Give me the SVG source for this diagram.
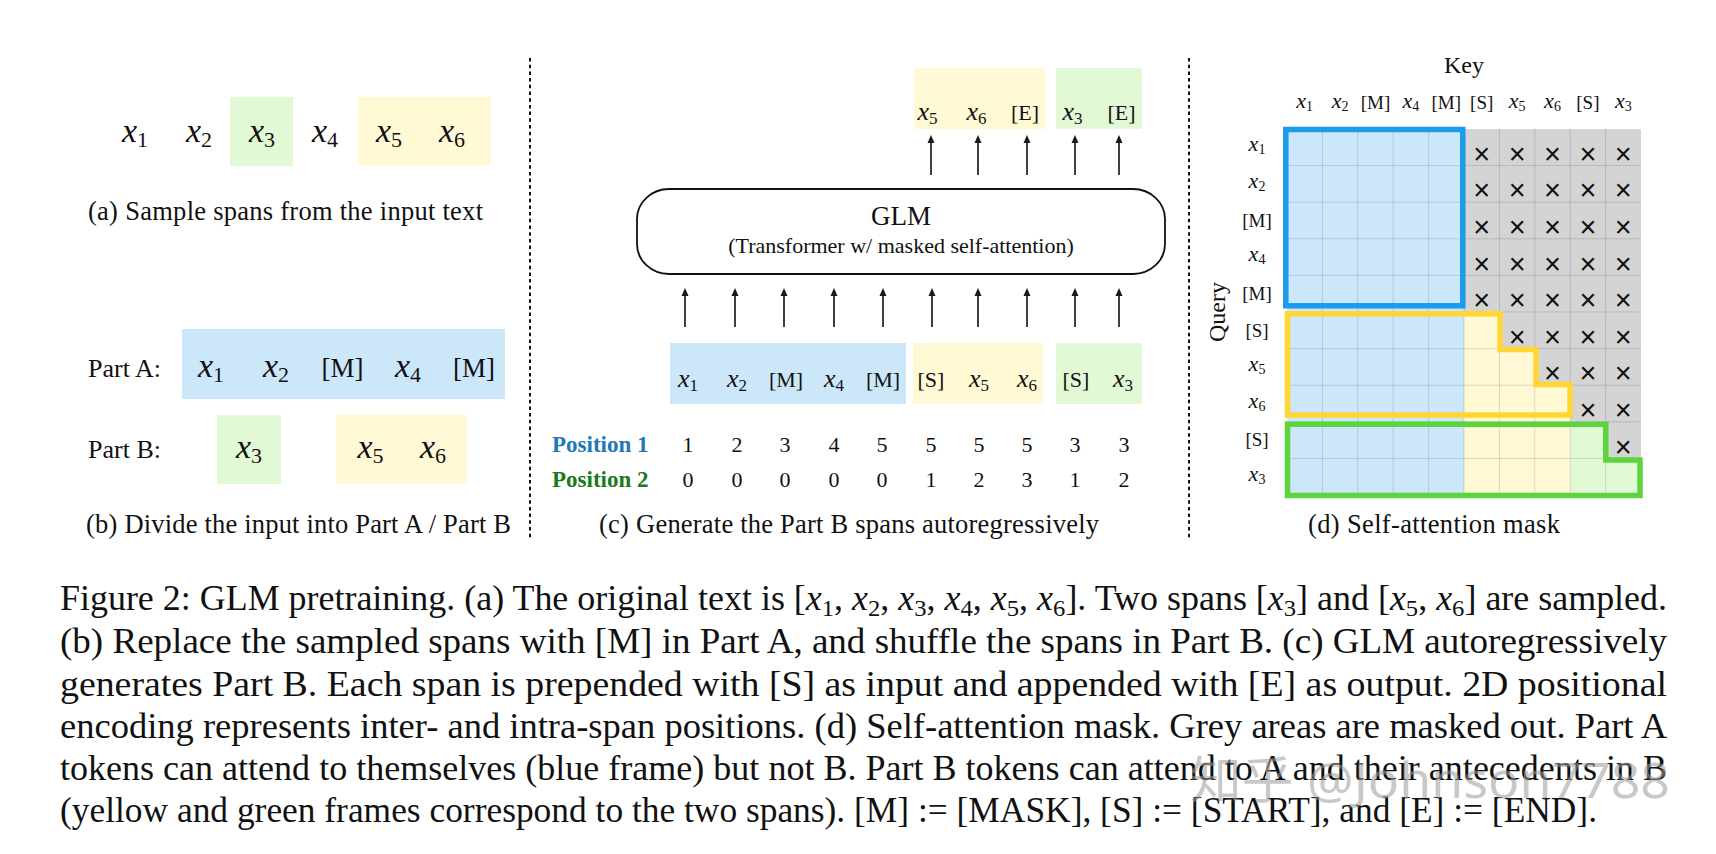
<svg xmlns="http://www.w3.org/2000/svg" width="1716" height="854" viewBox="0 0 1716 854">
<defs>
<style>
text { font-family: "Liberation Serif", "Times New Roman", serif; fill: #111; }
.cap { font-size: 26.5px; }
.ta { font-size: 26px; }
.xa { font-size: 34px; font-style: italic; text-anchor: middle; }
.sa { font-size: 22px; font-style: normal; }
.ra { font-size: 27px; text-anchor: middle; }
.xc { font-size: 26px; font-style: italic; text-anchor: middle; }
.sc { font-size: 17px; font-style: normal; }
.rc { font-size: 22px; text-anchor: middle; }
.num { font-size: 22px; text-anchor: middle; }
.pos { font-size: 23px; font-weight: bold; }
.xd { font-size: 22px; font-style: italic; text-anchor: middle; }
.sd { font-size: 14px; font-style: normal; }
.rd { font-size: 19px; text-anchor: middle; }
.fig { font-size: 35px; }
.it { font-style: italic; }
.sub { font-size: 24px; }
.wm { font-family: "Noto Sans", "Noto Sans CJK SC", sans-serif; font-size: 50px; fill: #9a9a9a; fill-opacity: 0.55; }
.blue { fill: #cce6fa; }
.yel { fill: #fff9d6; }
.grn { fill: #e2f9d6; }
.grey { fill: #d4d4d4; }
.mx { font-family: "Liberation Sans", Arial, sans-serif; font-size: 29px; text-anchor: middle; fill: #111; }
.arrow { stroke: #2a2a2a; stroke-width: 1.8; fill: none; marker-end: url(#ah); }
.dots { stroke: #111; stroke-width: 2; stroke-dasharray: 3.5 3.2; fill: none; }
.grid { stroke: #000; stroke-opacity: 0.13; stroke-width: 1; fill: none; }
.frame { fill: none; stroke-width: 5.5; stroke-linejoin: miter; }
</style>
<marker id="ah" markerUnits="userSpaceOnUse" markerWidth="8" markerHeight="8" viewBox="0 0 8 8" refX="4" refY="4" orient="auto">
<path d="M0,0.5 L8,4 L0,7.5 Z" fill="#1a1a1a"/>
</marker>
</defs>

<rect width="1716" height="854" fill="#ffffff"/>

<!-- separators -->
<g id="separators">
<line class="dots" x1="530" y1="58" x2="530" y2="540"/>
<line class="dots" x1="1189" y1="58" x2="1189" y2="540"/>
</g>

<!-- Panel (a) -->
<g id="panel-a">
<g id="a-span-x3"><rect class="grn" x="230" y="97" width="63" height="69"/></g>
<g id="a-span-x5x6"><rect class="yel" x="358" y="97" width="133" height="69"/></g>
<text class="xa" x="135" y="142">x<tspan class="sa" dy="5">1</tspan></text>
<text class="xa" x="199" y="142">x<tspan class="sa" dy="5">2</tspan></text>
<text class="xa" x="262" y="142">x<tspan class="sa" dy="5">3</tspan></text>
<text class="xa" x="325" y="142">x<tspan class="sa" dy="5">4</tspan></text>
<text class="xa" x="389" y="142">x<tspan class="sa" dy="5">5</tspan></text>
<text class="xa" x="452" y="142">x<tspan class="sa" dy="5">6</tspan></text>
<text class="cap" x="88" y="220" textLength="395" lengthAdjust="spacing">(a)<tspan dx="7">Sample spans from the input text</tspan></text>
</g>

<!-- Panel (b) -->
<g id="panel-b">
<text class="ta" x="88" y="377">Part A:</text>
<g id="b-partA"><rect class="blue" x="182" y="329" width="323" height="70"/></g>
<text class="xa" x="211" y="377">x<tspan class="sa" dy="5">1</tspan></text>
<text class="xa" x="276" y="377">x<tspan class="sa" dy="5">2</tspan></text>
<text class="ra" x="342.5" y="377">[M]</text>
<text class="xa" x="408" y="377">x<tspan class="sa" dy="5">4</tspan></text>
<text class="ra" x="474" y="377">[M]</text>
<text class="ta" x="88" y="458">Part B:</text>
<g id="b-partB-x3"><rect class="grn" x="217" y="415" width="64" height="69"/></g>
<g id="b-partB-x5x6"><rect class="yel" x="336" y="415" width="131" height="69"/></g>
<text class="xa" x="249" y="458">x<tspan class="sa" dy="5">3</tspan></text>
<text class="xa" x="370.5" y="458">x<tspan class="sa" dy="5">5</tspan></text>
<text class="xa" x="433" y="458">x<tspan class="sa" dy="5">6</tspan></text>
<text class="cap" x="86" y="533" textLength="425" lengthAdjust="spacing">(b)<tspan dx="7">Divide the input into Part A / Part B</tspan></text>
</g>

<!-- Panel (c) -->
<g id="panel-c">
<g id="c-output-yellow"><rect class="yel" x="914" y="68" width="131" height="61"/></g>
<g id="c-output-green"><rect class="grn" x="1056" y="68" width="86" height="61"/></g>
<text class="xc" x="927.5" y="120">x<tspan class="sc" dy="4">5</tspan></text>
<text class="xc" x="976.5" y="120">x<tspan class="sc" dy="4">6</tspan></text>
<text class="rc" x="1025" y="120">[E]</text>
<text class="xc" x="1072.5" y="120">x<tspan class="sc" dy="4">3</tspan></text>
<text class="rc" x="1121.5" y="120">[E]</text>

<g id="c-glm">
<rect x="637" y="189" width="528" height="85" rx="32" ry="30" fill="#fff" stroke="#111" stroke-width="1.8"/>
<text x="901" y="225" font-size="27" text-anchor="middle">GLM</text>
<text x="901" y="253" font-size="22" text-anchor="middle">(Transformer w/ masked self-attention)</text>
</g>

<g id="c-input-blue"><rect class="blue" x="670" y="343" width="236" height="61"/></g>
<g id="c-input-yellow"><rect class="yel" x="913" y="343" width="130" height="61"/></g>
<g id="c-input-green"><rect class="grn" x="1056" y="343" width="86" height="61"/></g>
<text class="xc" x="688" y="387">x<tspan class="sc" dy="4">1</tspan></text>
<text class="xc" x="737" y="387">x<tspan class="sc" dy="4">2</tspan></text>
<text class="rc" x="786" y="387">[M]</text>
<text class="xc" x="834" y="387">x<tspan class="sc" dy="4">4</tspan></text>
<text class="rc" x="883" y="387">[M]</text>
<text class="rc" x="931" y="387">[S]</text>
<text class="xc" x="979" y="387">x<tspan class="sc" dy="4">5</tspan></text>
<text class="xc" x="1027" y="387">x<tspan class="sc" dy="4">6</tspan></text>
<text class="rc" x="1076" y="387">[S]</text>
<text class="xc" x="1123" y="387">x<tspan class="sc" dy="4">3</tspan></text>

<text class="pos" x="552" y="452" style="fill:#2277b6">Position 1</text>
<text class="pos" x="552" y="487" style="fill:#1c7a1c">Position 2</text>
<g id="c-pos1">
<text class="num" x="688" y="452">1</text>
<text class="num" x="737" y="452">2</text>
<text class="num" x="785" y="452">3</text>
<text class="num" x="834" y="452">4</text>
<text class="num" x="882" y="452">5</text>
<text class="num" x="931" y="452">5</text>
<text class="num" x="979" y="452">5</text>
<text class="num" x="1027" y="452">5</text>
<text class="num" x="1075" y="452">3</text>
<text class="num" x="1124" y="452">3</text>
</g>
<g id="c-pos2">
<text class="num" x="688" y="487">0</text>
<text class="num" x="737" y="487">0</text>
<text class="num" x="785" y="487">0</text>
<text class="num" x="834" y="487">0</text>
<text class="num" x="882" y="487">0</text>
<text class="num" x="931" y="487">1</text>
<text class="num" x="979" y="487">2</text>
<text class="num" x="1027" y="487">3</text>
<text class="num" x="1075" y="487">1</text>
<text class="num" x="1124" y="487">2</text>
</g>
<text class="cap" x="599" y="533" textLength="500" lengthAdjust="spacing">(c)<tspan dx="7">Generate the Part B spans autoregressively</tspan></text>
</g>

<!-- connectors -->
<g id="connectors">
<line class="arrow" x1="685" y1="327" x2="685" y2="292"/>
<line class="arrow" x1="735" y1="327" x2="735" y2="292"/>
<line class="arrow" x1="784" y1="327" x2="784" y2="292"/>
<line class="arrow" x1="834" y1="327" x2="834" y2="292"/>
<line class="arrow" x1="883" y1="327" x2="883" y2="292"/>
<line class="arrow" x1="932" y1="327" x2="932" y2="292"/>
<line class="arrow" x1="978" y1="327" x2="978" y2="292"/>
<line class="arrow" x1="1027" y1="327" x2="1027" y2="292"/>
<line class="arrow" x1="1075" y1="327" x2="1075" y2="292"/>
<line class="arrow" x1="1119" y1="327" x2="1119" y2="292"/>
<line class="arrow" x1="931" y1="175" x2="931" y2="139"/>
<line class="arrow" x1="978" y1="175" x2="978" y2="139"/>
<line class="arrow" x1="1027" y1="175" x2="1027" y2="139"/>
<line class="arrow" x1="1075" y1="175" x2="1075" y2="139"/>
<line class="arrow" x1="1119" y1="175" x2="1119" y2="139"/>
</g>

<!-- Panel (d) -->
<g id="panel-d">
<text x="1464" y="73" font-size="24" text-anchor="middle">Key</text>
<text transform="translate(1225,312) rotate(-90)" font-size="24" text-anchor="middle">Query</text>
<g id="d-col-headers">
<text class="xd" x="1304.7" y="108">x<tspan class="sd" dy="3">1</tspan></text>
<text class="xd" x="1340.1" y="108">x<tspan class="sd" dy="3">2</tspan></text>
<text class="rd" x="1375.5" y="109">[M]</text>
<text class="xd" x="1410.9" y="108">x<tspan class="sd" dy="3">4</tspan></text>
<text class="rd" x="1446.3" y="109">[M]</text>
<text class="rd" x="1481.7" y="109">[S]</text>
<text class="xd" x="1517.1" y="108">x<tspan class="sd" dy="3">5</tspan></text>
<text class="xd" x="1552.5" y="108">x<tspan class="sd" dy="3">6</tspan></text>
<text class="rd" x="1587.9" y="109">[S]</text>
<text class="xd" x="1623.3" y="108">x<tspan class="sd" dy="3">3</tspan></text>
</g>
<g id="d-row-labels">
<text class="xd" x="1257" y="151">x<tspan class="sd" dy="3">1</tspan></text>
<text class="xd" x="1257" y="188">x<tspan class="sd" dy="3">2</tspan></text>
<text class="rd" x="1257" y="227">[M]</text>
<text class="xd" x="1257" y="261">x<tspan class="sd" dy="3">4</tspan></text>
<text class="rd" x="1257" y="300">[M]</text>
<text class="rd" x="1257" y="337">[S]</text>
<text class="xd" x="1257" y="371">x<tspan class="sd" dy="3">5</tspan></text>
<text class="xd" x="1257" y="408">x<tspan class="sd" dy="3">6</tspan></text>
<text class="rd" x="1257" y="446">[S]</text>
<text class="xd" x="1257" y="481">x<tspan class="sd" dy="3">3</tspan></text>
</g>
<g id="d-matrix">
<rect class="blue" x="1287" y="129" width="177" height="366"/>
<path class="grey" d="M1464,129 H1641 V458.4 H1605.6 V421.8 H1570.2 V385.2 H1534.8 V348.6 H1499.4 V312 H1464 Z"/>
<path class="yel" d="M1464,312 H1499.4 V348.6 H1534.8 V385.2 H1570.2 V495 H1464 Z"/>
<path class="grn" d="M1570.2,421.8 H1605.6 V458.4 H1641 V495 H1570.2 Z"/>
<path class="grid" d="M1322.4,129 V495 M1357.8,129 V495 M1393.2,129 V495 M1428.6,129 V495 M1464,129 V495 M1499.4,129 V495 M1534.8,129 V495 M1570.2,129 V495 M1605.6,129 V495 M1287,165.6 H1641 M1287,202.2 H1641 M1287,238.8 H1641 M1287,275.4 H1641 M1287,312 H1641 M1287,348.6 H1641 M1287,385.2 H1641 M1287,421.8 H1641 M1287,458.4 H1641"/>
</g>
<g id="d-masks">
<text class="mx" x="1481.7" y="164">×</text><text class="mx" x="1517.1" y="164">×</text><text class="mx" x="1552.5" y="164">×</text><text class="mx" x="1587.9" y="164">×</text><text class="mx" x="1623.3" y="164">×</text>
<text class="mx" x="1481.7" y="200">×</text><text class="mx" x="1517.1" y="200">×</text><text class="mx" x="1552.5" y="200">×</text><text class="mx" x="1587.9" y="200">×</text><text class="mx" x="1623.3" y="200">×</text>
<text class="mx" x="1481.7" y="237">×</text><text class="mx" x="1517.1" y="237">×</text><text class="mx" x="1552.5" y="237">×</text><text class="mx" x="1587.9" y="237">×</text><text class="mx" x="1623.3" y="237">×</text>
<text class="mx" x="1481.7" y="273.5">×</text><text class="mx" x="1517.1" y="273.5">×</text><text class="mx" x="1552.5" y="273.5">×</text><text class="mx" x="1587.9" y="273.5">×</text><text class="mx" x="1623.3" y="273.5">×</text>
<text class="mx" x="1481.7" y="310">×</text><text class="mx" x="1517.1" y="310">×</text><text class="mx" x="1552.5" y="310">×</text><text class="mx" x="1587.9" y="310">×</text><text class="mx" x="1623.3" y="310">×</text>
<text class="mx" x="1517.1" y="346.7">×</text><text class="mx" x="1552.5" y="346.7">×</text><text class="mx" x="1587.9" y="346.7">×</text><text class="mx" x="1623.3" y="346.7">×</text>
<text class="mx" x="1552.5" y="383.3">×</text><text class="mx" x="1587.9" y="383.3">×</text><text class="mx" x="1623.3" y="383.3">×</text>
<text class="mx" x="1587.9" y="420">×</text><text class="mx" x="1623.3" y="420">×</text>
<text class="mx" x="1623.3" y="456.5">×</text>
</g>
<g id="d-frames">
<rect class="frame" x="1285.8" y="129.5" width="177" height="176.3" stroke="#1a9cea"/>
<path class="frame" stroke="#ffd633" d="M1287.5,313.7 H1500 V349.5 H1536 V384.5 H1570 V415 H1287.5 Z"/>
<path class="frame" stroke="#5cd43c" d="M1287.5,424.2 H1605.8 V460 H1640 V495.5 H1287.5 Z"/>
</g>
<text class="cap" x="1308" y="533" textLength="252" lengthAdjust="spacing">(d)<tspan dx="7">Self-attention mask</tspan></text>
</g>

<!-- Figure caption -->
<g id="caption">
<text class="fig" x="60" y="610" textLength="1607" lengthAdjust="spacingAndGlyphs">Figure 2: GLM pretraining. (a) The original text is [<tspan class="it">x</tspan><tspan class="sub" dy="6">1</tspan><tspan dy="-6">, </tspan><tspan class="it">x</tspan><tspan class="sub" dy="6">2</tspan><tspan dy="-6">, </tspan><tspan class="it">x</tspan><tspan class="sub" dy="6">3</tspan><tspan dy="-6">, </tspan><tspan class="it">x</tspan><tspan class="sub" dy="6">4</tspan><tspan dy="-6">, </tspan><tspan class="it">x</tspan><tspan class="sub" dy="6">5</tspan><tspan dy="-6">, </tspan><tspan class="it">x</tspan><tspan class="sub" dy="6">6</tspan><tspan dy="-6">]. Two spans [</tspan><tspan class="it">x</tspan><tspan class="sub" dy="6">3</tspan><tspan dy="-6">] and [</tspan><tspan class="it">x</tspan><tspan class="sub" dy="6">5</tspan><tspan dy="-6">, </tspan><tspan class="it">x</tspan><tspan class="sub" dy="6">6</tspan><tspan dy="-6">] are sampled.</tspan></text>
<text class="fig" x="60" y="653" textLength="1607" lengthAdjust="spacingAndGlyphs">(b) Replace the sampled spans with [M] in Part A, and shuffle the spans in Part B. (c) GLM autoregressively</text>
<text class="fig" x="60" y="696" textLength="1607" lengthAdjust="spacingAndGlyphs">generates Part B. Each span is prepended with [S] as input and appended with [E] as output.  2D positional</text>
<text class="fig" x="60" y="738" textLength="1607" lengthAdjust="spacingAndGlyphs">encoding represents inter- and intra-span positions. (d) Self-attention mask. Grey areas are masked out. Part A</text>
<text class="fig" x="60" y="780" textLength="1607" lengthAdjust="spacingAndGlyphs">tokens can attend to themselves (blue frame) but not B. Part B tokens can attend to A and their antecedents in B</text>
<text class="fig" x="60" y="822" textLength="1537" lengthAdjust="spacingAndGlyphs">(yellow and green frames correspond to the two spans). [M] := [MASK], [S] := [START], and [E] := [END].</text>
</g>

<g id="watermark">
<text class="wm" x="1190" y="798" textLength="480" lengthAdjust="spacingAndGlyphs">知乎 @Johnson7788</text>
</g>
</svg>
